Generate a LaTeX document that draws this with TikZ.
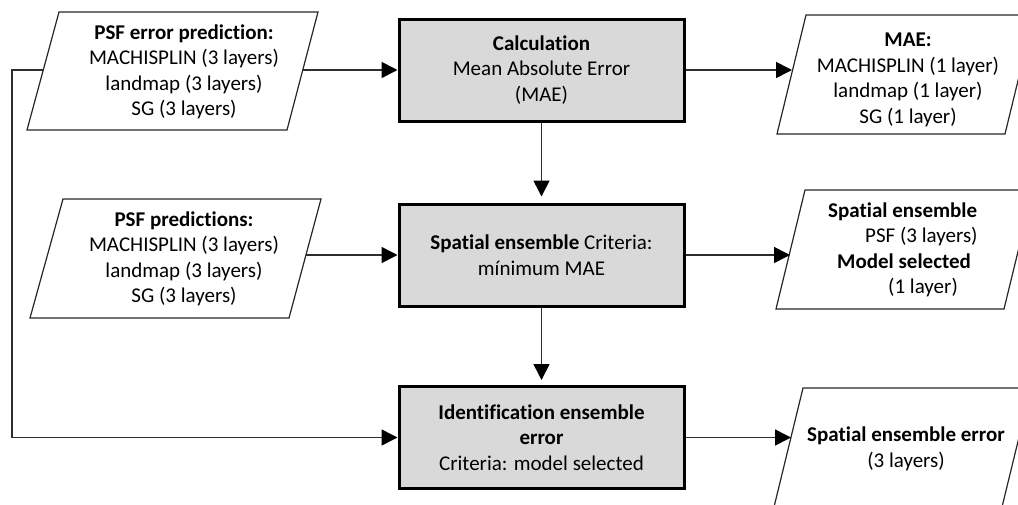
\documentclass[tikz,border=0pt]{standalone}
\usepackage{fontspec}
\setmainfont[Ligatures={NoCommon}]{Carlito}
\usetikzlibrary{arrows.meta}
\definecolor{boxgray}{HTML}{D9D9D9}
\definecolor{linegray}{HTML}{2E2E2E}
\begin{document}
\begin{tikzpicture}[x=1pt,y=-1pt,
  txt/.style={font=\fontsize{21}{25.5}\selectfont, align=center, inner sep=0pt},
  proc/.style={draw=black, line width=3pt, fill=boxgray, minimum width=285pt, minimum height=102pt, inner sep=0pt, align=center, font=\fontsize{21}{25.5}\selectfont},
  para/.style={draw=black!85, line width=1.2pt},
  conn/.style={draw=linegray, line width=1.6pt},
  arr/.style={conn, -{Triangle[length=16pt,width=16pt,black]}}
]
\useasboundingbox (0,0) rectangle (1018,504);
\clip (0,0) rectangle (1018,504);

% input parallelograms
\draw[para] (59,12) -- (318,12) -- (287,130) -- (27,130) -- cycle;
\node[txt] (p1) at (184,72) {\textbf{PSF error prediction:}\\MACHISPLIN (3 layers)\\landmap (3 layers)\\SG (3 layers)};
\draw[para] (63,199) -- (321,199) -- (289,318) -- (30,318) -- cycle;
\node[txt] (p2) at (184,259) {\textbf{PSF predictions:}\\MACHISPLIN (3 layers)\\landmap (3 layers)\\SG (3 layers)};

% output parallelograms
\draw[para] (806,15) -- (1034,15) -- (1005,134) -- (777,134) -- cycle;
\node[txt] (mae) at (908,80) {\textbf{MAE:}\\MACHISPLIN (1 layer)\\landmap (1 layer)\\SG (1 layer)};
\draw[para] (805,190) -- (1033,190) -- (1004,309) -- (776,309) -- cycle;
\node[txt, align=left, anchor=west] (sep) at (828,250) {\textbf{Spatial ensemble}\\\hspace*{37pt}PSF (3 layers)\\\hspace*{9pt}\textbf{Model selected}\\\hspace*{60pt}(1 layer)};
\draw[para] (803,388) -- (1031,388) -- (1002,507) -- (774,507) -- cycle;
\node[txt] (seep) at (906,449) {\textbf{Spatial ensemble error}\\(3 layers)};

% process boxes
\node[proc] (calc) at (541.5,70) {\textbf{Calculation}\\Mean Absolute Error\\(MAE)};
\node[proc] (sens) at (541.5,255) {\textbf{Spatial ensemble} Criteria:\\mínimum MAE};
\node[proc] (ident) at (541.5,437.5) {\textbf{Identification ensemble}\\\textbf{error}\\Criteria: model selected};

% connector end points
\coordinate (p1e) at (303,70);
\coordinate (p1w) at (43,70);
\coordinate (corner) at (12,70);
\coordinate (p2e) at (306,255);
\coordinate (maew) at (792,70);
\coordinate (sew) at (790,255);
\coordinate (seew) at (791,437.5);

% connectors
\draw[arr] (p1e) -- (calc.west);
\draw[arr] (p2e) -- (sens.west);
\draw[arr] (p1w) -- (corner) |- (ident.west);
\draw[arr] (calc.east) -- (maew);
\draw[arr] (sens.east) -- (sew);
\draw[arr] (ident.east) -- (seew);
\draw[arr, shorten >=6pt] (calc.south) -- (sens.north);
\draw[arr, shorten >=5pt] (sens.south) -- (ident.north);
\end{tikzpicture}
\end{document}
